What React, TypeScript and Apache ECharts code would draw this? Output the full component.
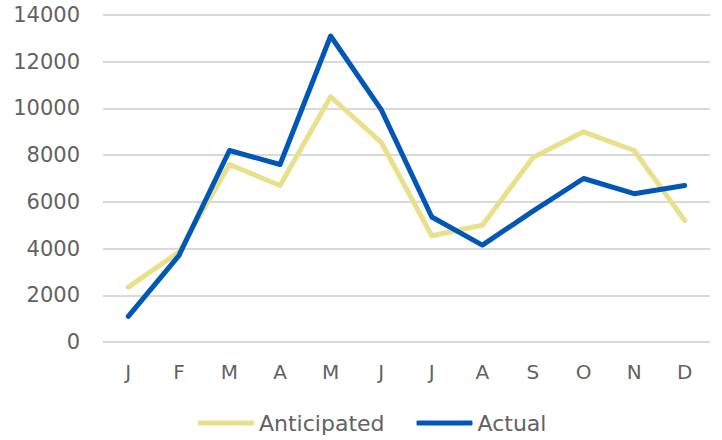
import React, { useEffect, useRef } from "react";
import * as echarts from "echarts";

const months = ["J", "F", "M", "A", "M", "J", "J", "A", "S", "O", "N", "D"];
const anticipated = [2350, 3850, 7600, 6700, 10500, 8550, 4550, 5000, 7900, 9000, 8200, 5200];
const actual = [1100, 3700, 8200, 7600, 13100, 9950, 5350, 4150, 5600, 7000, 6350, 6700];
const seriesNames = ["Anticipated", "Actual"];
const colors = ["#E8E08A", "#0057B8"];

const FONT = "'DejaVu Sans', 'Open Sans', sans-serif";
const TXT = "#626262";

export default function App() {
  const ref = useRef<HTMLDivElement>(null);
  useEffect(() => {
    if (!ref.current) return;
    const chart = echarts.init(ref.current, undefined, { renderer: "svg" });
    chart.setOption({
      animation: false,
      textStyle: { fontFamily: FONT },
      grid: { left: 103, right: 12, top: 15, bottom: 98, containLabel: false },
      legend: {
        bottom: 1,
        left: 193,
        itemWidth: 56,
        itemHeight: 5,
        itemGap: 32,
        icon: "roundRect",
        textStyle: { fontSize: 22, color: TXT, fontFamily: FONT },
        data: seriesNames,
      },
      xAxis: {
        type: "category",
        data: months,
        boundaryGap: true,
        axisLine: { show: false },
        axisTick: { show: false },
        axisLabel: { fontSize: 20, color: TXT, margin: 20, fontFamily: FONT },
      },
      yAxis: {
        type: "value",
        min: 0,
        max: 14000,
        interval: 2000,
        axisLine: { show: false },
        axisTick: { show: false },
        axisLabel: { fontSize: 21, color: TXT, margin: 23, fontFamily: FONT, formatter: (v: number) => String(v) },
        splitLine: { lineStyle: { color: "#D9D9D9", width: 2 } },
      },
      series: [
        {
          name: seriesNames[0],
          type: "line",
          data: anticipated,
          symbol: "none",
          lineStyle: { width: 5, color: colors[0], cap: "round", join: "round" },
          itemStyle: { color: colors[0] },
        },
        {
          name: seriesNames[1],
          type: "line",
          data: actual,
          symbol: "none",
          lineStyle: { width: 5, color: colors[1], cap: "round", join: "round" },
          itemStyle: { color: colors[1] },
        },
      ],
    });
    return () => chart.dispose();
  }, []);
  return <div ref={ref} style={{ width: 722, height: 440, position: "absolute", left: 0, top: 0 }} />;
}
